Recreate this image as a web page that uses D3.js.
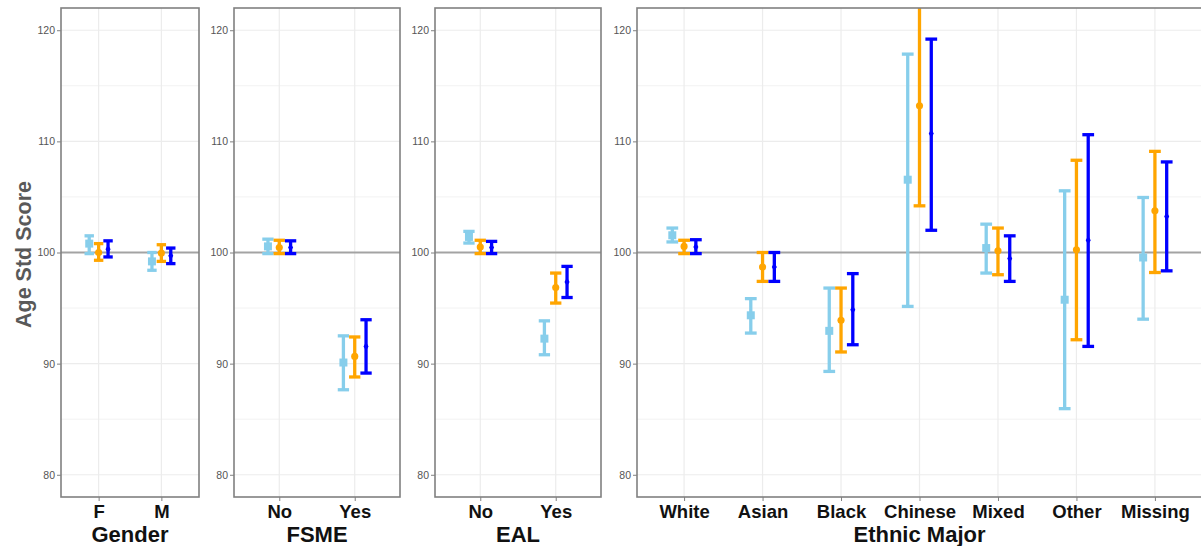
<!DOCTYPE html>
<html>
<head>
<meta charset="utf-8">
<script src="https://cdn.jsdelivr.net/npm/d3@7"></script>
<style>
  html, body { margin: 0; padding: 0; background: #fff; }
  svg { display: block; font-family: "Liberation Sans", Arial, sans-serif; }
</style>
</head>
<body>
<svg id="chart" width="1201" height="546"></svg>
<script>
// ---- data ---------------------------------------------------------------
// Three series per category: [light blue, orange, blue]
const seriesColors = ["#87CEEB", "#FFA500", "#0000FF"];
const seriesShapes = ["square", "circle", "diamond"];

const yTicks = [80, 90, 100, 110, 120];
const yMinor = [85, 95, 105, 115];
const yDomain = [78, 122];
const refValue = 100;

const genderCats = ["F", "M"];
const genderMean = [[100.8, 99.2], [100.0, 99.95], [100.3, 99.7]];
const genderLow  = [[99.9, 98.4], [99.3, 99.2], [99.6, 99.0]];
const genderHigh = [[101.5, 100.0], [100.8, 100.7], [101.05, 100.4]];

const fsmeCats = ["No", "Yes"];
const fsmeMean = [[100.55, 90.1], [100.45, 90.65], [100.45, 91.55]];
const fsmeLow  = [[99.9, 87.65], [99.9, 88.8], [99.9, 89.15]];
const fsmeHigh = [[101.2, 92.5], [101.1, 92.4], [101.05, 93.95]];

const ealCats = ["No", "Yes"];
const ealMean = [[101.4, 92.25], [100.5, 96.85], [100.45, 97.35]];
const ealLow  = [[100.85, 90.8], [99.9, 95.45], [99.9, 95.95]];
const ealHigh = [[101.9, 93.85], [101.1, 98.15], [101.0, 98.75]];

const ethnicCats = ["White", "Asian", "Black", "Chinese", "Mixed", "Other", "Missing"];
const ethnicMean = [
  [101.55, 94.35, 92.95, 106.55, 100.4, 95.75, 99.55],
  [100.55, 98.7, 93.9, 113.2, 100.15, 100.25, 103.75],
  [100.5, 98.7, 94.85, 110.7, 99.45, 101.1, 103.25]
];
const ethnicLow = [
  [100.95, 92.75, 89.3, 95.15, 98.15, 85.95, 94.0],
  [99.9, 97.4, 91.05, 104.2, 98.0, 92.15, 98.2],
  [99.9, 97.4, 91.7, 102.0, 97.4, 91.55, 98.35]
];
const ethnicHigh = [
  [102.2, 95.85, 96.8, 117.85, 102.55, 105.55, 104.95],
  [101.1, 100.0, 96.8, 122.3, 102.2, 108.3, 109.1],
  [101.15, 100.0, 98.1, 119.2, 101.5, 110.6, 108.15]
];

const facets = [
  { title: "Gender",       cats: genderCats, mean: genderMean, low: genderLow, high: genderHigh },
  { title: "FSME",         cats: fsmeCats,   mean: fsmeMean,   low: fsmeLow,   high: fsmeHigh },
  { title: "EAL",          cats: ealCats,    mean: ealMean,    low: ealLow,    high: ealHigh },
  { title: "Ethnic Major", cats: ethnicCats, mean: ethnicMean, low: ethnicLow, high: ethnicHigh }
];

// ---- layout -------------------------------------------------------------
const panelX = [[61, 199], [234, 400], [435, 601], [637, 1202]];
const panelTop = 8, panelBottom = 497;
const dodge = 0.15;      // fraction of category step
const capHalf = 0.075;   // fraction of category step

const svg = d3.select("#chart");

const y = d3.scaleLinear().domain(yDomain).range([panelBottom, panelTop]);

// y axis title
svg.append("text")
  .attr("transform", `translate(31,${(panelTop + panelBottom) / 2 + 2}) rotate(-90)`)
  .attr("text-anchor", "middle")
  .attr("fill", "#595959")
  .attr("font-weight", "bold")
  .attr("font-size", 21.5)
  .text("Age Std Score");

function symbolPath(shape) {
  if (shape === "square") return d3.symbol(d3.symbolSquare, 64)();
  if (shape === "circle") return d3.symbol(d3.symbolCircle, 40)();
  return d3.symbol(d3.symbolDiamond, 22)();
}

facets.forEach((f, fi) => {
  const [x0, x1] = panelX[fi];
  const x = d3.scalePoint().domain(f.cats).range([x0, x1]).padding(0.6);
  const step = x.step();
  const g = svg.append("g");

  const clipId = "clip" + fi;
  g.append("clipPath").attr("id", clipId)
    .append("rect").attr("x", x0).attr("y", panelTop)
    .attr("width", x1 - x0).attr("height", panelBottom - panelTop);

  // grid lines
  const grid = g.append("g");
  grid.selectAll("line.minor").data(yMinor).join("line")
    .attr("x1", x0).attr("x2", x1)
    .attr("y1", d => y(d)).attr("y2", d => y(d))
    .attr("stroke", "#f2f2f2").attr("stroke-width", 1);
  grid.selectAll("line.major").data(yTicks).join("line")
    .attr("x1", x0).attr("x2", x1)
    .attr("y1", d => y(d)).attr("y2", d => y(d))
    .attr("stroke", "#ececec").attr("stroke-width", 1.2);
  grid.selectAll("line.vert").data(f.cats).join("line")
    .attr("x1", d => x(d)).attr("x2", d => x(d))
    .attr("y1", panelTop).attr("y2", panelBottom)
    .attr("stroke", "#ececec").attr("stroke-width", 1.2);

  // reference line
  g.append("line")
    .attr("x1", x0).attr("x2", x1)
    .attr("y1", y(refValue)).attr("y2", y(refValue))
    .attr("stroke", "#a3a3a3").attr("stroke-width", 2);

  // error bars and points
  const marks = g.append("g").attr("clip-path", `url(#${clipId})`);
  seriesColors.forEach((color, si) => {
    const off = (si - 1) * dodge * step;
    const rows = f.cats.map((c, ci) => ({
      cx: x(c) + off,
      m: f.mean[si][ci], lo: f.low[si][ci], hi: f.high[si][ci]
    }));
    const sg = marks.append("g")
      .attr("stroke", color).attr("fill", color).attr("stroke-width", 3.3);
    sg.selectAll("line.stem").data(rows).join("line")
      .attr("x1", d => d.cx).attr("x2", d => d.cx)
      .attr("y1", d => y(d.lo)).attr("y2", d => y(d.hi));
    sg.selectAll("line.capLo").data(rows).join("line")
      .attr("x1", d => d.cx - capHalf * step).attr("x2", d => d.cx + capHalf * step)
      .attr("y1", d => y(d.lo)).attr("y2", d => y(d.lo));
    sg.selectAll("line.capHi").data(rows).join("line")
      .attr("x1", d => d.cx - capHalf * step).attr("x2", d => d.cx + capHalf * step)
      .attr("y1", d => y(d.hi)).attr("y2", d => y(d.hi));
    sg.selectAll("path.pt").data(rows).join("path")
      .attr("stroke", "none")
      .attr("transform", d => `translate(${d.cx},${y(d.m)})`)
      .attr("d", symbolPath(seriesShapes[si]));
  });

  // panel border
  g.append("rect")
    .attr("x", x0).attr("y", panelTop)
    .attr("width", x1 - x0).attr("height", panelBottom - panelTop)
    .attr("fill", "none").attr("stroke", "#808080").attr("stroke-width", 1.6);

  // y axis
  const ya = g.append("g").attr("transform", `translate(${x0},0)`)
    .call(d3.axisLeft(y).tickValues(yTicks).tickSize(4).tickPadding(2));
  ya.select(".domain").remove();
  ya.selectAll("line").attr("stroke", "#808080");
  ya.selectAll("text").attr("fill", "#555").attr("font-size", 10.5)
    .attr("font-family", "Liberation Sans, Arial, sans-serif");

  // x axis
  const xa = g.append("g").attr("transform", `translate(0,${panelBottom})`)
    .call(d3.axisBottom(x).tickSize(4).tickPadding(4));
  xa.select(".domain").remove();
  xa.selectAll("line").attr("stroke", "#808080");
  xa.selectAll("text").attr("fill", "#111").attr("font-size", 18.5)
    .attr("font-weight", "bold")
    .attr("font-family", "Liberation Sans, Arial, sans-serif");

  // x axis title
  g.append("text")
    .attr("x", (x0 + x1) / 2).attr("y", 541.5)
    .attr("text-anchor", "middle")
    .attr("fill", "#111").attr("font-weight", "bold").attr("font-size", 22)
    .text(f.title);
});
</script>
</body>
</html>
